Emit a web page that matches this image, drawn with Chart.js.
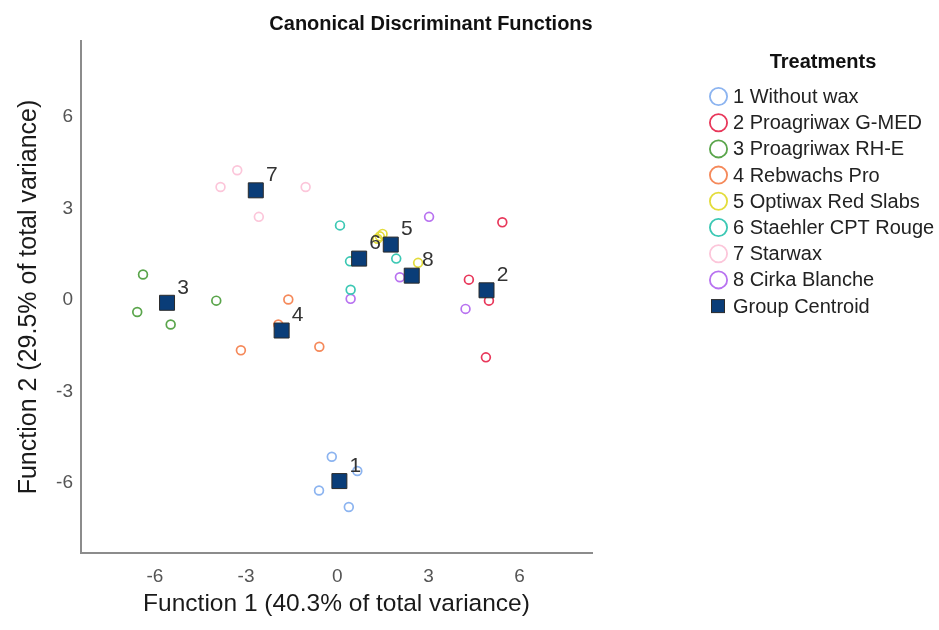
<!DOCTYPE html>
<html lang="en">
<head>
<meta charset="UTF-8" />
<title>Canonical Discriminant Functions</title>
<style>
  html, body { margin: 0; padding: 0; background: #fff; }
  #wrap { width: 939px; height: 630px; }
</style>
</head>
<body>
<div id="wrap"><canvas id="myChart" width="939" height="630"></canvas></div>
<script src="https://cdn.jsdelivr.net/npm/chart.js@4.4.0/dist/chart.umd.min.js"></script>
<script>
  // Group names (legend order)
  var treatments = [
    "1 Without wax",
    "2 Proagriwax G-MED",
    "3 Proagriwax RH-E",
    "4 Rebwachs Pro",
    "5 Optiwax Red Slabs",
    "6 Staehler CPT Rouge",
    "7 Starwax",
    "8 Cirka Blanche",
  ];

  // Discriminant scores per case, one row per treatment
  var fn1 = [
    [-0.18, 0.66, -0.6, 0.38],
    [5.43, 4.33, 4.99, 4.89],
    [-6.39, -6.58, -5.48, -3.98],
    [-1.61, -1.94, -3.17, -0.59],
    [1.32, 1.49, 1.4, 2.66],
    [0.09, 0.42, 0.44, 1.94],
    [-3.29, -3.84, -1.04, -2.58],
    [3.02, 2.06, 0.44, 4.22],
  ];
  var fn2 = [
    [-5.14, -5.61, -6.25, -6.79],
    [2.55, 0.67, -0.02, -1.88],
    [0.84, -0.39, -0.8, -0.02],
    [0.02, -0.8, -1.65, -1.53],
    [2.01, 2.17, 2.09, 1.22],
    [2.45, 1.27, 0.34, 1.36],
    [4.26, 3.71, 3.71, 2.73],
    [2.73, 0.75, 0.04, -0.29],
  ];

  // Group centroids
  var centroidLabels = ["1", "2", "3", "4", "5", "6", "7", "8"];
  var centroidFn1 = [0.07, 4.91, -5.6, -1.83, 1.76, 0.72, -2.68, 2.45];
  var centroidFn2 = [-5.94, 0.32, -0.09, -1.0, 1.82, 1.36, 3.6, 0.8];

  var axisTicks = [-6, -3, 0, 3, 6];

  var groupColors = [
    "#8cb4f0", "#e8375a", "#5aa54b", "#f5895a",
    "#e3dc3c", "#3cc8b4", "#fcc6da", "#b872f0",
  ];

  var FONT = "'Liberation Sans', Arial, sans-serif";

  var datasets = treatments.map(function (name, i) {
    return {
      label: name,
      data: fn1[i].map(function (v, j) {
        return { x: v, y: fn2[i][j] };
      }),
      pointStyle: "circle",
      pointRadius: 4.4,
      pointBorderWidth: 1.7,
      borderColor: groupColors[i],
      backgroundColor: "rgba(0,0,0,0)",
      order: 1,
    };
  });

  datasets.push({
    label: "Group Centroid",
    data: centroidFn1.map(function (v, j) {
      return { x: v, y: centroidFn2[j] };
    }),
    pointStyle: "rect",
    pointRadius: 10.6,
    pointBorderWidth: 1,
    borderColor: "#2b2b2b",
    backgroundColor: "#0a3d78",
    order: 0,
  });

  // Title, centroid numbers and the legend block on the right
  var extras = {
    id: "extras",
    afterDatasetsDraw: function (chart) {
      var ctx = chart.ctx;
      ctx.save();

      // centroid numbers
      var meta = chart.getDatasetMeta(datasets.length - 1);
      ctx.fillStyle = "#333";
      ctx.font = "21px " + FONT;
      ctx.textAlign = "center";
      ctx.textBaseline = "middle";
      meta.data.forEach(function (pt, j) {
        ctx.fillText(centroidLabels[j], pt.x + 16, pt.y - 15);
      });

      // title
      ctx.fillStyle = "#111";
      ctx.font = "bold 20px " + FONT;
      ctx.fillText("Canonical Discriminant Functions", 431, 24);

      // legend
      ctx.fillText("Treatments", 823, 62);
      ctx.font = "20px " + FONT;
      ctx.textAlign = "left";
      chart.data.datasets.forEach(function (ds, i) {
        var y = 96.5 + i * 26.2;
        if (ds.pointStyle === "rect") {
          ctx.fillStyle = ds.backgroundColor;
          ctx.strokeStyle = ds.borderColor;
          ctx.lineWidth = 1;
          ctx.fillRect(711.5, y - 6.5, 13, 13);
          ctx.strokeRect(711.5, y - 6.5, 13, 13);
        } else {
          ctx.strokeStyle = ds.borderColor;
          ctx.lineWidth = 1.8;
          ctx.beginPath();
          ctx.arc(718.5, y, 8.6, 0, Math.PI * 2);
          ctx.stroke();
        }
        ctx.fillStyle = "#222";
        ctx.fillText(ds.label, 733, y + 1);
      });
      ctx.restore();
    },
  };

  function axis(min, max, titleText, isX) {
    return {
      type: "linear",
      min: min,
      max: max,
      afterBuildTicks: function (s) {
        s.ticks = axisTicks.map(function (v) {
          return { value: v };
        });
      },
      afterFit: function (s) {
        if (isX) s.height = 77;
        else s.width = 81;
      },
      ticks: {
        color: "#555",
        font: { family: FONT, size: 19 },
        padding: isX ? 12 : 8,
        callback: function (v) {
          return String(v);
        },
      },
      grid: { display: false, drawTicks: false },
      border: { display: true, color: "#8c8c8c", width: 2 },
      title: {
        display: true,
        text: titleText,
        color: "#1a1a1a",
        font: { family: FONT, size: isX ? 24.5 : 25 },
        padding: isX ? { top: 0, bottom: 11 } : { top: 14, bottom: 0 },
      },
    };
  }

  var ctx = document.getElementById("myChart").getContext("2d");
  var myChart = new Chart(ctx, {
    type: "scatter",
    data: { datasets: datasets },
    options: {
      responsive: false,
      animation: false,
      layout: { padding: { top: 41, right: 347, bottom: 0, left: 0 } },
      plugins: {
        legend: { display: false },
        tooltip: { enabled: false },
      },
      scales: {
        x: axis(-8.43, 8.38, "Function 1 (40.3% of total variance)", true),
        y: axis(-8.3, 8.5, "Function 2 (29.5% of total variance)", false),
      },
    },
    plugins: [extras],
  });
</script>
</body>
</html>
